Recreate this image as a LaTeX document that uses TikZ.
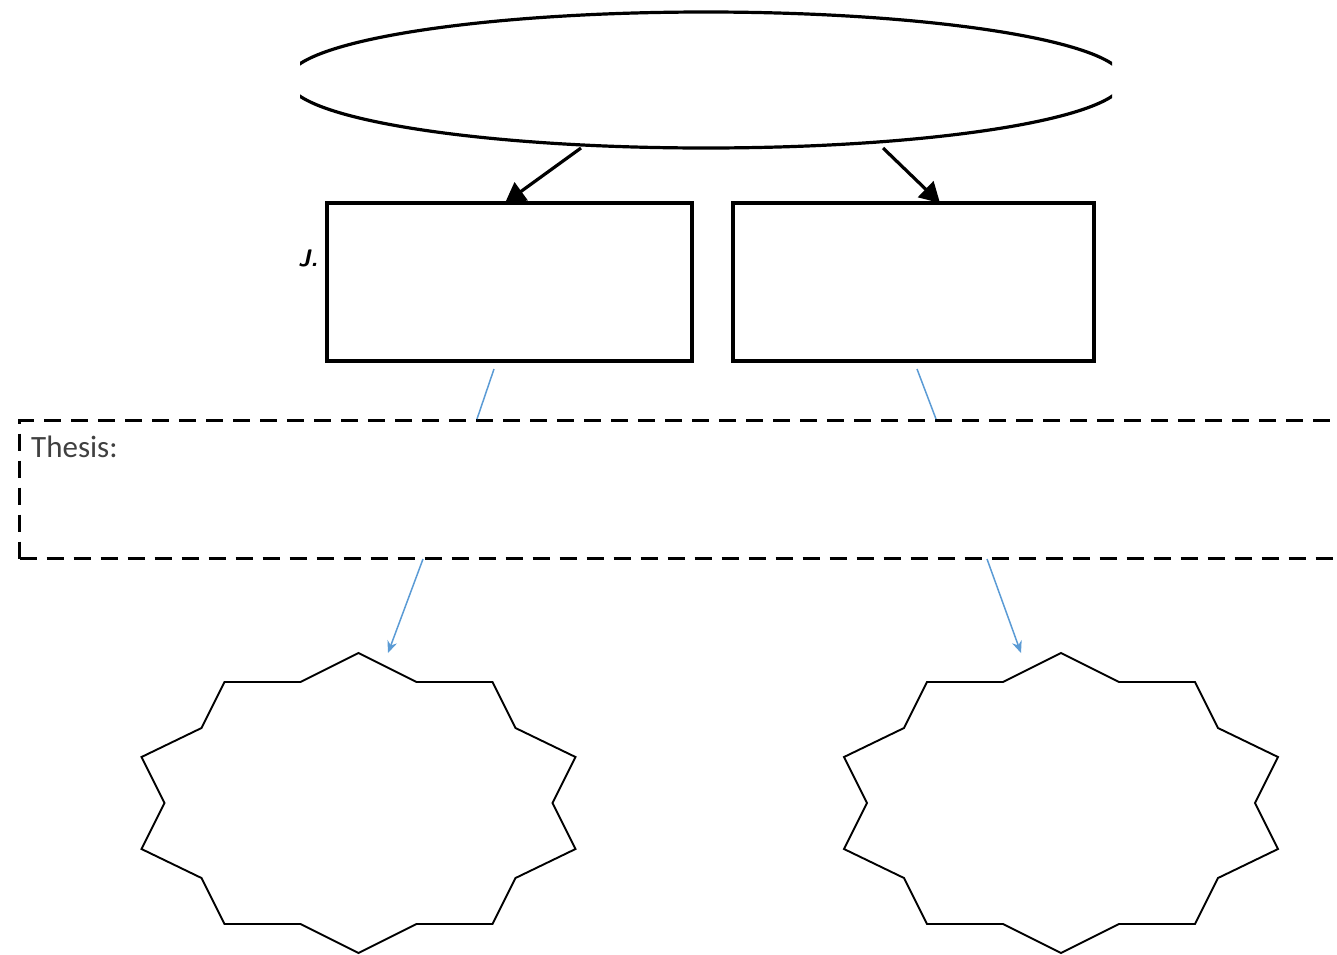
\documentclass[tikz,border=0pt]{standalone}
\usepackage{fontspec}
\setmainfont{Carlito}
\usetikzlibrary{arrows.meta}
\definecolor{linkblue}{RGB}{91,155,213}
\definecolor{textgray}{RGB}{64,64,64}
\tikzset{
  boxnode/.style={draw, line width=3.3pt, minimum width=#1, minimum height=158pt, inner sep=0pt},
  blackarrow/.style={line width=3.2pt, -{Triangle[length=20pt,width=22pt]}},
  blueline/.style={draw=linkblue, line width=1.5pt},
  bluearrow/.style={blueline, -{Stealth[length=12pt,width=10pt]}},
  starline/.style={line width=1.9pt, line join=miter},
  thesisbox/.style={draw, line width=3.2pt, dash pattern=on 17pt off 10pt, minimum width=1342pt, minimum height=138pt, inner sep=0pt},
}
\newcommand{\starpath}{(0,-150) -- (58,-121) -- (134,-121) -- (157,-75) -- (217,-46) -- (194,0) -- (217,46) -- (157,75) -- (134,121) -- (58,121) -- (0,150) -- (-58,121) -- (-134,121) -- (-157,75) -- (-217,46) -- (-194,0) -- (-217,-46) -- (-157,-75) -- (-134,-121) -- (-58,-121) -- cycle}
\begin{document}
\begin{tikzpicture}[x=1pt,y=-1pt]
\useasboundingbox (0,0) rectangle (1337,954);
% top ellipse (clipped at its ends)
\begin{scope}
  \clip (300,0) rectangle (1112,170);
  \draw[line width=3.2pt] (706,80) ellipse [x radius=418, y radius=68];
\end{scope}
\coordinate (e1) at (581,148);
\coordinate (e2) at (883,148);
% rectangles
\node[boxnode=365pt] (L) at (509.5,282) {};
\node[boxnode=361pt] (R) at (913.5,282) {};
\coordinate (Ltop) at (505,203);
\coordinate (Rtop) at (940,203);
\draw[blackarrow] (e1) -- (Ltop);
\draw[blackarrow] (e2) -- (Rtop);
% small mark
\node[font=\sffamily\bfseries\itshape\fontsize{24}{24}\selectfont, inner sep=0pt] (mark) at (308,258) {J.};
% thesis box
\node[thesisbox, anchor=north west] (T) at (18,419) {};
\node[anchor=west, inner sep=0pt, text=textgray, font=\fontsize{31}{36}\selectfont] (thesis) at (31,447) {Thesis:};
% blue connectors
\coordinate (b1s) at (494,369);
\coordinate (b1e) at (477,419);
\coordinate (b2s) at (917,369);
\coordinate (b2e) at (936,419);
\draw[blueline] (b1s) -- (b1e);
\draw[blueline] (b2s) -- (b2e);
\coordinate (a1s) at (423,559);
\coordinate (a1e) at (388,653);
\coordinate (a2s) at (987,559);
\coordinate (a2e) at (1021,653);
\draw[bluearrow] (a1s) -- (a1e);
\draw[bluearrow] (a2s) -- (a2e);
% stars
\begin{scope}[shift={(358.5,803)}]
  \draw[starline] \starpath;
\end{scope}
\begin{scope}[shift={(1061,803)}]
  \draw[starline] \starpath;
\end{scope}
\end{tikzpicture}
\end{document}
